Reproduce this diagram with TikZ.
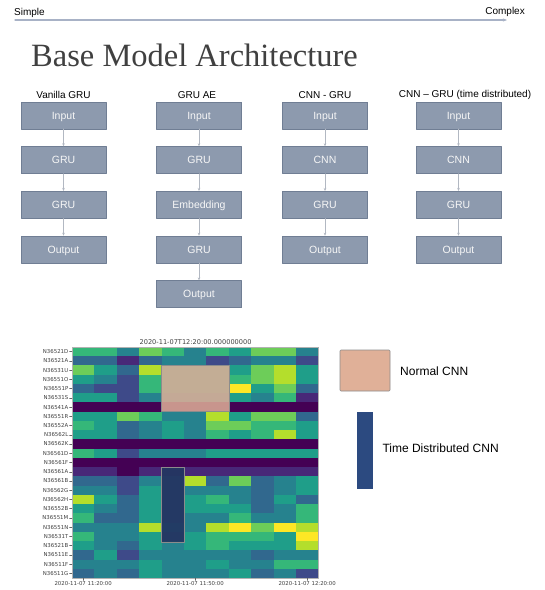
\documentclass[tikz,border=0pt]{standalone}
\usepackage{fontspec}
\setmainfont{Liberation Sans}
\newfontfamily\titlefont{Liberation Serif}
\newfontfamily\plotfont{DejaVu Sans}
\usetikzlibrary{positioning,arrows.meta}
\definecolor{boxfill}{RGB}{141,154,174}
\definecolor{boxline}{RGB}{112,126,148}
\definecolor{linkgray}{RGB}{178,184,194}
\definecolor{scalegray}{RGB}{168,178,198}
\definecolor{titlegray}{RGB}{64,64,64}
\definecolor{normalcnn}{RGB}{224,176,152}
\definecolor{tdcnn}{RGB}{44,74,128}
\definecolor{vir0}{RGB}{68,1,84}
\definecolor{vir1}{RGB}{72,40,120}
\definecolor{vir2}{RGB}{62,74,137}
\definecolor{vir3}{RGB}{49,104,142}
\definecolor{vir4}{RGB}{38,130,142}
\definecolor{vir5}{RGB}{31,158,137}
\definecolor{vir6}{RGB}{53,183,121}
\definecolor{vir7}{RGB}{109,205,89}
\definecolor{vir8}{RGB}{180,222,44}
\definecolor{vir9}{RGB}{253,231,37}
\tikzset{
  layer/.style={draw=boxline,fill=boxfill,text=white!94!gray,minimum width=85pt,minimum height=27pt,inner sep=0pt,text height=7.6pt,text depth=0pt,font=\fontsize{10.5}{12}\selectfont},
  link/.style={-{Stealth[length=3pt,width=2.5pt]},linkgray,line width=0.6pt},
  head/.style={inner sep=0pt,font=\fontsize{10}{12}\selectfont},
  legendtext/.style={inner sep=0pt,anchor=west,font=\fontsize{12}{14}\selectfont},
  plotlabel/.style={inner sep=0pt,text=black!75,font=\plotfont\fontsize{5.4}{6}\selectfont}
}

\begin{document}
\begin{tikzpicture}[x=1pt,y=-1pt,line cap=round,line join=round]
\useasboundingbox[fill=white] (0,0) rectangle (545,590);
% simple -> complex scale
\node[head,anchor=west] (simple) at (14,12.5) {Simple};
\node[head,anchor=east] (complex) at (525,11.5) {Complex};
\coordinate (sa) at (15,20);
\coordinate (sb) at (507,20);
\draw[-{Stealth[length=4pt,width=3pt]},scalegray,line width=1.2pt] (sa) -- (sb);
\node[anchor=west,inner sep=0pt,text=titlegray,font=\titlefont\fontsize{32.5}{36}\selectfont] (title) at (31,55) {Base Model Architecture};
% model columns
\node[head] (hvan) at (63.5,95) {Vanilla GRU};
\node[head] (hae) at (197,95) {GRU AE};
\node[head] (hcg) at (325,95) {CNN - GRU};
\node[head] (htd) at (465,95) {CNN -- GRU (time distributed)};
\node[layer] (vin) at (63.5,115.3) {Input};
\node[layer,below=17.3pt of vin] (vg1) {GRU};
\node[layer,below=17.3pt of vg1] (vg2) {GRU};
\node[layer,below=17.3pt of vg2] (vout) {Output};
\node[layer] (ain) at (199,115.3) {Input};
\node[layer,below=17.3pt of ain] (ag1) {GRU};
\node[layer,below=17.3pt of ag1] (aemb) {Embedding};
\node[layer,below=17.3pt of aemb] (ag2) {GRU};
\node[layer,below=17.3pt of ag2] (aout) {Output};
\node[layer] (cin) at (325,115.3) {Input};
\node[layer,below=17.3pt of cin] (ccnn) {CNN};
\node[layer,below=17.3pt of ccnn] (cgru) {GRU};
\node[layer,below=17.3pt of cgru] (cout) {Output};
\node[layer] (tin) at (458.5,115.3) {Input};
\node[layer,below=17.3pt of tin] (tcnn) {CNN};
\node[layer,below=17.3pt of tcnn] (tgru) {GRU};
\node[layer,below=17.3pt of tgru] (tout) {Output};
\draw[link] (vin) -- (vg1);
\draw[link] (vg1) -- (vg2);
\draw[link] (vg2) -- (vout);
\draw[link] (ain) -- (ag1);
\draw[link] (ag1) -- (aemb);
\draw[link] (aemb) -- (ag2);
\draw[link] (ag2) -- (aout);
\draw[link] (cin) -- (ccnn);
\draw[link] (ccnn) -- (cgru);
\draw[link] (cgru) -- (cout);
\draw[link] (tin) -- (tcnn);
\draw[link] (tcnn) -- (tgru);
\draw[link] (tgru) -- (tout);
% heatmap, 25 sensors x 11 time steps
\foreach \vals [count=\r from 0] in {
  {6,6,4,7,6,4,6,5,7,7,4},{3,3,1,3,4,4,2,3,4,4,2},{7,5,3,8,5,5,5,5,7,8,5},
  {5,4,2,6,5,5,5,6,7,8,5},{3,2,2,6,5,5,5,9,5,7,3},{5,5,2,4,4,4,4,5,4,6,1},
  {0,0,0,0,0,0,0,0,0,0,0},{5,5,7,6,4,4,8,5,7,7,3},{6,5,3,4,5,4,7,7,6,6,5},
  {5,5,3,4,5,4,6,5,6,8,5},{0,0,0,0,0,0,0,0,0,0,0},{6,5,2,4,4,4,5,5,5,5,5},
  {0,0,0,0,0,0,0,0,0,0,0},{1,1,0,1,1,1,1,1,1,1,1},{3,3,2,4,2,8,3,7,3,4,5},
  {4,4,2,5,2,4,4,4,3,4,5},{8,5,3,5,2,5,6,4,3,5,3},{5,4,3,5,2,5,5,5,3,4,6},
  {6,3,3,5,2,4,4,6,4,4,6},{4,4,4,8,3,4,8,9,7,9,8},{6,4,4,5,2,5,6,6,6,5,9},
  {5,4,3,5,4,5,6,5,5,5,8},{3,5,2,4,4,4,4,4,3,4,4},{4,4,4,5,4,4,5,4,4,6,6},
  {3,4,3,5,4,4,4,5,3,4,2}}
  \foreach \v [count=\c from 0] in \vals
    \fill[vir\v] (72+22.4*\c,347+9.24*\r) rectangle +(22.5,9.3);
\draw[black!30,line width=0.4pt] (72,347) rectangle (318.4,578);
\foreach \lab [count=\r from 0] in {N36521D,N36521A,N36531U,N36551O,N36551P,N36531S,N36541A,N36551R,N36552A,N36562L,N36562K,N36561D,N36561F,N36561A,N36561B,N36562G,N36562H,N36552B,N36551M,N36551N,N36531T,N36521B,N36511E,N36511F,N36511G}{
  \draw[black!60,line width=0.4pt] (72,351.6+9.24*\r) -- (69.5,351.6+9.24*\r);
  \node[plotlabel,anchor=east] at (68.5,351.6+9.24*\r) {\lab};
}
\foreach \c/\tlab in {0/11:20:00,5/11:50:00,10/12:20:00}{
  \draw[black!60,line width=0.4pt] (83.2+22.4*\c,578) -- (83.2+22.4*\c,580.5);
  \node[plotlabel,anchor=north] at (83.2+22.4*\c,581.5) {2020-11-07 \tlab};
}
\node[plotlabel,font=\plotfont\fontsize{6.6}{8}\selectfont] (maptitle) at (195.6,342) {2020-11-07T12:20:00.000000000};
% highlighted receptive fields
\filldraw[fill=normalcnn,fill opacity=0.85,draw=black!45,line width=0.6pt] (161.6,365.5) rectangle (228.8,411.7);
\filldraw[fill=tdcnn!75!black,fill opacity=0.88,draw=black!45,line width=0.6pt] (161.6,467.1) rectangle (184,541.9);
% legend
\filldraw[fill=normalcnn,draw=black!45,line width=0.6pt,rounded corners=1pt] (340,350) rectangle (390,391);
\node[legendtext] (lnormal) at (400,371.5) {Normal CNN};
\fill[tdcnn] (357.3,411.7) rectangle (372.7,489.3);
\node[legendtext] (ltd) at (382.3,448.3) {Time Distributed CNN};
\end{tikzpicture}
\end{document}
